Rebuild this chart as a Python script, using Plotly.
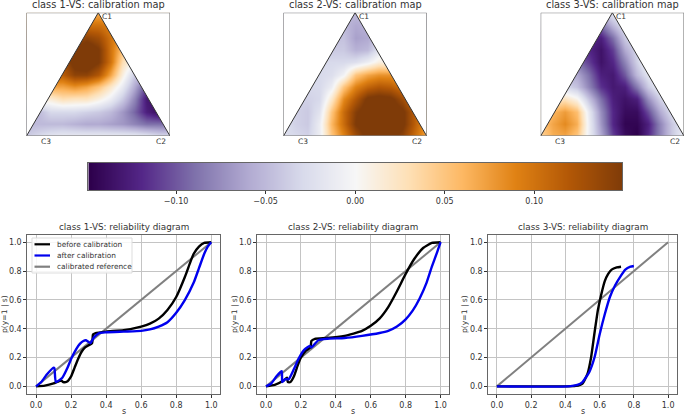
import plotly.graph_objects as go

W, H = 685, 415
FONT = "DejaVu Sans"
TXT = "#333333"

COLORSCALE = [[0.0, "#2d004b"], [0.1, "#542788"], [0.2, "#8073ac"], [0.3, "#b2abd2"],
              [0.4, "#d8daeb"], [0.5, "#f7f7f7"], [0.6, "#fee0b6"], [0.7, "#fdb863"],
              [0.8, "#e08214"], [0.9, "#b35806"], [1.0, "#7f3b08"]]
VMAX = 0.149
bar_levels = [-0.149, -0.1192, -0.0894, -0.0596, -0.0298, 0.0, 0.0298, 0.0596, 0.0894, 0.1192, 0.149]
bar_ticks = [-0.10, -0.05, 0.0, 0.05, 0.10]

grid_x = [0, 1/12, 2/12, 3/12, 4/12, 5/12, 6/12, 7/12, 8/12, 9/12, 10/12, 11/12, 1]
grid_y = [0, .1, .2, .3, .4, .5, .6, .7, .8, .9, 1]

map1 = [
    [-.04, -.03, -.02, -.015, -.015, -.015, -.015, -.015, -.015, -.015, -.02, -.03, -.03],
    [-.05, -.05, -.05, -.05, -.055, -.06, -.06, -.065, -.07, -.08, -.09, -.09, -.09],
    [-.05, -.05, -.03, -.03, -.03, -.035, -.04, -.05, -.07, -.095, -.125, -.14, -.14],
    [.01, .01, .015, .03, .025, .025, .01, -.01, -.04, -.08, -.13, -.14, -.14],
    [.07, .07, .07, .07, .08, .07, .05, .02, -.015, -.06, -.11, -.11, -.11],
    [.115, .115, .115, .115, .14, .14, .12, .07, .01, -.04, -.05, -.05, -.05],
    [.13, .13, .13, .13, .16, .17, .15, .10, .03, 0, 0, 0, 0],
    [.15, .15, .15, .15, .15, .17, .15, .10, .05, .05, .05, .05, .05],
    [.13, .13, .13, .13, .13, .14, .13, .10, .07, .07, .07, .07, .07],
    [.1, .1, .1, .1, .1, .1, .1, .09, .09, .09, .09, .09, .09],
    [.06, .06, .06, .06, .06, .06, .065, .06, .06, .06, .06, .06, .06],
]
map2 = [
    [-.025, -.03, -.035, -.01, .05, .09, .13, .16, .16, .16, .14, .105, .07],
    [-.025, -.035, -.04, -.01, .06, .105, .15, .165, .17, .165, .155, .115, .075],
    [-.03, -.035, -.04, -.02, .05, .105, .145, .165, .17, .165, .155, .115, .075],
    [-.03, -.035, -.035, -.03, .02, .085, .12, .155, .16, .155, .13, .095, .06],
    [-.03, -.03, -.03, -.03, -.01, .05, .09, .11, .12, .115, .1, .07, .04],
    [-.03, -.03, -.03, -.03, -.025, -.005, .05, .07, .08, .08, .055, .04, .03],
    [-.03, -.03, -.03, -.03, -.03, -.03, -.025, -.01, .01, .005, 0, 0, 0],
    [-.04, -.04, -.04, -.04, -.04, -.04, -.055, -.05, -.02, -.02, -.02, -.02, -.02],
    [-.045, -.045, -.045, -.045, -.045, -.045, -.065, -.06, -.04, -.04, -.04, -.04, -.04],
    [-.05, -.05, -.05, -.05, -.05, -.05, -.06, -.055, -.05, -.05, -.05, -.05, -.05],
    [-.05, -.05, -.05, -.05, -.05, -.05, -.05, -.05, -.05, -.05, -.05, -.05, -.05],
]
map3 = [
    [.04, .065, .07, .05, -.01, -.06, -.11, -.14, -.149, -.12, -.08, -.04, -.01],
    [.05, .07, .085, .065, -.01, -.07, -.12, -.145, -.145, -.125, -.08, -.04, -.015],
    [.03, .06, .075, .055, -.015, -.075, -.12, -.14, -.14, -.105, -.06, -.025, 0],
    [0, .02, .025, .005, -.045, -.09, -.125, -.135, -.125, -.075, -.035, -.01, 0],
    [-.03, -.03, -.03, -.045, -.08, -.115, -.13, -.125, -.085, -.04, -.01, 0, 0],
    [-.06, -.06, -.06, -.06, -.09, -.125, -.13, -.10, -.05, -.02, 0, 0, 0],
    [-.09, -.09, -.09, -.09, -.11, -.135, -.12, -.08, -.035, 0, 0, 0, 0],
    [-.12, -.12, -.12, -.12, -.12, -.135, -.11, -.06, -.03, 0, 0, 0, 0],
    [-.12, -.12, -.12, -.12, -.12, -.125, -.09, -.04, -.02, 0, 0, 0, 0],
    [-.09, -.09, -.09, -.09, -.09, -.09, -.05, -.02, -.01, 0, 0, 0, 0],
    [-.04, -.04, -.04, -.04, -.04, -.04, -.02, -.01, 0, 0, 0, 0, 0],
]

s1_before = [0, .05, .1, .13, .145, .155, .175, .2, .22, .24, .26, .28, .3, .32, .325, .34, .4, .5, .6, .65, .7, .75, .8, .85, .88, .9, .93, .96, 1]
p1_before = [0, .005, .02, .035, .04, .03, .032, .07, .13, .19, .24, .27, .285, .30, .36, .37, .38, .39, .415, .435, .47, .53, .62, .76, .86, .92, .97, .995, 1]
s1_after = [0, .03, .06, .1, .105, .113, .15, .18, .2, .23, .25, .27, .285, .31, .33, .36, .4, .5, .6, .65, .7, .75, .8, .85, .9, .93, .96, .98, 1]
p1_after = [0, .03, .08, .13, .125, .03, .06, .13, .19, .26, .295, .315, .32, .30, .34, .37, .375, .38, .385, .395, .415, .445, .51, .6, .72, .82, .92, .97, 1]

s2_before = [0, .05, .1, .12, .125, .14, .16, .18, .2, .23, .255, .26, .28, .35, .45, .55, .6, .65, .7, .75, .8, .85, .9, .95, 1]
p2_before = [0, .01, .04, .06, .03, .03, .07, .14, .2, .25, .27, .315, .33, .335, .35, .385, .42, .47, .55, .66, .78, .885, .96, .995, 1]
s2_after = [0, .03, .06, .09, .093, .11, .13, .16, .19, .22, .25, .26, .3, .35, .45, .55, .65, .7, .75, .8, .84, .88, .92, .95, .98, 1]
p2_after = [0, .02, .07, .105, .03, .05, .05, .12, .2, .255, .28, .27, .32, .33, .335, .35, .37, .385, .415, .465, .525, .61, .72, .83, .93, 1]

s3_before = [0, .4, .46, .5, .53, .55, .57, .59, .61, .63, .65, .67, .7, .725]
p3_before = [0, 0, .003, .02, .09, .2, .37, .53, .64, .73, .78, .81, .825, .83]
s3_after = [0, .42, .47, .5, .54, .57, .6, .63, .66, .69, .72, .75, .78, .8]
p3_after = [0, 0, .01, .03, .1, .2, .36, .5, .62, .7, .76, .81, .83, .835]

ref_s = [0, 1]
ref_p = [0, 1]

map_titles = ["class 1-VS: calibration map", "class 2-VS: calibration map", "class 3-VS: calibration map"]
rel_titles = ["class 1-VS: reliability diagram", "class 2-VS: reliability diagram", "class 3-VS: reliability diagram"]
legend_labels = ["before calibration", "after calibration", "calibrated reference"]
COL_BEFORE, COL_AFTER, COL_REF = "black", "#0000ee", "#808080"
maps = [map1, map2, map3]
curves = [(s1_before, p1_before, s1_after, p1_after),
          (s2_before, p2_before, s2_after, p2_after),
          (s3_before, p3_before, s3_after, p3_after)]

# layout frames in pixels
map_frames = [(26.5, 170.0), (283.5, 426.7), (540.7, 684.0)]
map_y = (12.7, 136.0)
bar_frame = (88.3, 622.0)
bar_y = (163.0, 190.0)
rel_frames = [(27.3, 220.0), (257.3, 449.3), (488.3, 676.7)]
rel_y = (235.0, 394.0)
ylabel_px = [4.5, 234.5, 464.5]


def fx(p):
    return p / W


def fy(p):
    return 1 - p / H


fig = go.Figure()
layout = dict(
    width=W, height=H, autosize=False, margin=dict(l=0, r=0, t=0, b=0, pad=0),
    paper_bgcolor="white", plot_bgcolor="white",
    font=dict(family=FONT, size=8, color=TXT),
    coloraxis=dict(colorscale=COLORSCALE, cmin=-VMAX, cmax=VMAX, showscale=False),
    showlegend=False,
)
shapes = []
annotations = []
FRAME = "#666666"
TRI = "#333333"

for i in range(3):
    n = i + 1
    xa, ya = f"xaxis{n}", f"yaxis{n}"
    xr, yr = f"x{n}", f"y{n}"
    layout[xa] = dict(domain=[fx(map_frames[i][0]), fx(map_frames[i][1])], range=[0, 1],
                      showgrid=False, zeroline=False, showticklabels=False, ticks="", anchor=yr)
    layout[ya] = dict(domain=[fy(map_y[1]), fy(map_y[0])], range=[0, 1],
                      showgrid=False, zeroline=False, showticklabels=False, ticks="", anchor=xr)
    fig.add_trace(go.Heatmap(z=maps[i], x=grid_x, y=grid_y, coloraxis="coloraxis",
                             zsmooth="best", xaxis=xr, yaxis=yr))
    for path in ("M0,0 L0,1 L0.5,1 Z", "M1,0 L1,1 L0.5,1 Z"):
        shapes.append(dict(type="path", path=path, xref=xr, yref=yr, fillcolor="white",
                           line=dict(width=0), layer="above"))
    shapes.append(dict(type="path", path="M0,0 L0.5,1 L1,0", xref=xr, yref=yr,
                       line=dict(color=TRI, width=1), layer="above"))
    shapes.append(dict(type="rect", x0=0, x1=1, y0=0, y1=1, xref=xr, yref=yr,
                       line=dict(color=FRAME, width=1), layer="above"))
    cx = (map_frames[i][0] + map_frames[i][1]) / 2
    annotations.append(dict(text=map_titles[i], x=fx(cx), y=fy(4.5), xref="paper", yref="paper",
                            showarrow=False, font=dict(size=9.8, color=TXT, family=FONT),
                            xanchor="center", yanchor="middle"))
    for label, vx, vy, ox, oy in (("C1", 0.5, 1, 9, 4), ("C2", 1, 0, -9.5, 5), ("C3", 0, 0, 19.5, 5)):
        annotations.append(dict(text=label, x=vx, y=vy, xref=xr, yref=yr, xshift=ox, yshift=-oy,
                                showarrow=False, font=dict(size=7.5, color=TXT, family=FONT),
                                xanchor="center", yanchor="middle"))

# colour bar axis
layout["xaxis4"] = dict(domain=[fx(bar_frame[0]), fx(bar_frame[1])], range=[-VMAX, VMAX], anchor="y4",
                        tickvals=bar_ticks, tickformat=".2f", ticks="outside", ticklen=3, tickwidth=1,
                        tickcolor=TXT, showgrid=False, zeroline=False, mirror=True, showline=True,
                        linecolor=FRAME, linewidth=1, tickfont=dict(size=8, color=TXT, family=FONT))
layout["yaxis4"] = dict(domain=[fy(bar_y[1]), fy(bar_y[0])], range=[0, 1], anchor="x4",
                        showticklabels=False, ticks="", showgrid=False, zeroline=False,
                        mirror=True, showline=True, linecolor=FRAME, linewidth=1)
fig.add_trace(go.Heatmap(z=[bar_levels, bar_levels], x=bar_levels, y=[0, 1], coloraxis="coloraxis",
                         zsmooth="best", xaxis="x4", yaxis="y4"))

# reliability diagrams
tv = [0, .2, .4, .6, .8, 1]
for i in range(3):
    n = i + 5
    xa, ya = f"xaxis{n}", f"yaxis{n}"
    xr, yr = f"x{n}", f"y{n}"
    common = dict(showgrid=True, gridcolor="#c4c4c4", gridwidth=1, zeroline=False, tickvals=tv,
                  tickformat=".1f", ticks="outside", ticklen=3, tickwidth=1, tickcolor=TXT,
                  showline=True, mirror=True, linecolor=FRAME, linewidth=1,
                  tickfont=dict(size=8, color=TXT, family=FONT))
    layout[xa] = dict(domain=[fx(rel_frames[i][0]), fx(rel_frames[i][1])], range=[-0.05, 1.05], anchor=yr, **common)
    layout[ya] = dict(domain=[fy(rel_y[1]), fy(rel_y[0])], range=[-0.053, 1.05], anchor=xr, **common)
    sb, pb, sa, pa = curves[i]
    fig.add_trace(go.Scatter(x=ref_s, y=ref_p, mode="lines", name=legend_labels[2],
                             line=dict(color=COL_REF, width=2), xaxis=xr, yaxis=yr))
    fig.add_trace(go.Scatter(x=sb, y=pb, mode="lines", name=legend_labels[0],
                             line=dict(color=COL_BEFORE, width=2.4, shape="spline", smoothing=0.5), xaxis=xr, yaxis=yr))
    fig.add_trace(go.Scatter(x=sa, y=pa, mode="lines", name=legend_labels[1],
                             line=dict(color=COL_AFTER, width=2.4, shape="spline", smoothing=0.5), xaxis=xr, yaxis=yr))
    cx = (rel_frames[i][0] + rel_frames[i][1]) / 2
    annotations.append(dict(text=rel_titles[i], x=fx(cx), y=fy(227), xref="paper", yref="paper",
                            showarrow=False, font=dict(size=8.8, color=TXT, family=FONT),
                            xanchor="center", yanchor="middle"))
    annotations.append(dict(text="s", x=fx(cx), y=fy(411), xref="paper", yref="paper",
                            showarrow=False, font=dict(size=8, color=TXT, family=FONT),
                            xanchor="center", yanchor="middle"))
    annotations.append(dict(text="p(y=1 | s)", x=fx(ylabel_px[i]), y=fy((rel_y[0] + rel_y[1]) / 2),
                            xref="paper", yref="paper", textangle=-90, showarrow=False,
                            font=dict(size=7.6, color=TXT, family=FONT), xanchor="center", yanchor="middle"))

# compact legend drawn on the first reliability panel
shapes.append(dict(type="rect", xref="paper", yref="paper", x0=fx(32), x1=fx(132), y0=fy(273), y1=fy(238),
                   fillcolor="rgba(255,255,255,0.85)", line=dict(color="#dddddd", width=1), layer="above"))
for row, (label, col) in enumerate(zip(legend_labels, (COL_BEFORE, COL_AFTER, COL_REF))):
    py = 244.3 + row * 11.2
    shapes.append(dict(type="line", xref="paper", yref="paper", x0=fx(34.5), x1=fx(50), y0=fy(py), y1=fy(py),
                       line=dict(color=col, width=2.2), layer="above"))
    annotations.append(dict(text=label, x=fx(55), y=fy(py), xref="paper", yref="paper", showarrow=False,
                            font=dict(size=7.4, color=TXT, family=FONT), xanchor="left", yanchor="middle"))

layout["shapes"] = shapes
layout["annotations"] = annotations
fig.update_layout(**layout)
fig.write_html("out.html", config={"displayModeBar": False},
               post_script="document.body.style.margin='0';document.body.style.overflow='hidden';")
